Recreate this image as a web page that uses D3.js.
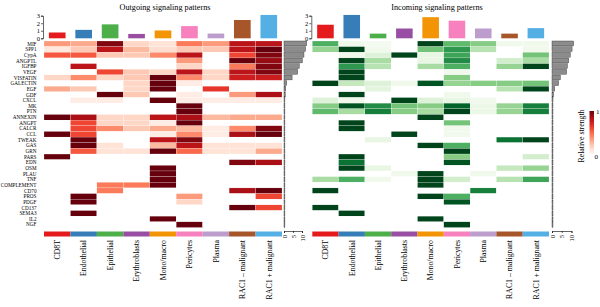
<!DOCTYPE html>
<html><head><meta charset="utf-8">
<script src="https://cdn.jsdelivr.net/npm/d3@7"></script>
<style>body{margin:0;background:#fff}svg{display:block;font-family:"Liberation Serif","DejaVu Serif",serif}</style>
</head><body><div id="chart"></div>
<script>
// cell groups and signaling pathways
var cellTypes = ["CD8T", "Endothelial", "Epithelial", "Erythroblasts", "Mono/macro", "Pericytes", "Plasma", "RAC1 \u2013 malignant", "RAC1 + malignant"];
var typeColors = ["#E41A1C", "#377EB8", "#4DAF4A", "#984EA3", "#F29403", "#F781BF", "#BC9DCC", "#A65628", "#54B0E4"];
var pathways = ["MIF", "SPP1", "CypA", "ANGPTL", "IGFBP", "VEGF", "VISFATIN", "GALECTIN", "EGF", "GDF", "CXCL", "MK", "PTN", "ANNEXIN", "ANGPT", "CALCR", "CCL", "TWEAK", "GAS", "GRN", "PARS", "EDN", "OSM", "PLAU", "TNF", "COMPLEMENT", "CD70", "PROS", "PDGF", "CD137", "SEMA3", "IL2", "NGF"];

// column totals (top bars)
var outTotals = [0.77, 1.12, 1.85, 0.58, 1.04, 1.62, 0.63, 2.43, 3.1];
var inTotals = [1.8, 3.1, 0.62, 1.3, 2.8, 2.34, 1.3, 0.62, 1.35];

// row totals (side bars)
var outRowSums = [12.6, 12, 11.1, 10.2, 8.5, 7.6, 4.5, 1.5, 1, 0.7, 0.5, 0.5, 0.5, 0.5, 0.5, 0.5, 0.5, 0.5, 0.5, 0.5, 0.5, 0.5, 0.5, 0.5, 0.5, 0.5, 0.5, 0.5, 0.5, 0.5, 0.5, 0.5, 0.5];
var inRowSums = [11.1, 10.3, 9.4, 8.6, 7.9, 7.5, 4.3, 3.4, 1.4, 0.8, 0.5, 0.5, 0.5, 0.5, 0.5, 0.5, 0.5, 0.5, 0.5, 0.5, 0.5, 0.5, 0.5, 0.5, 0.5, 0.5, 0.5, 0.5, 0.5, 0.5, 0.5, 0.5, 0.5];

// relative strength, one row per pathway
var outgoing = [
  [0.35, 0.3, 0.95, 0.15, 0.1, 0.45, 0.35, 0.8, 0.8],
  [0.08, 0.2, 0.8, 0.25, 0.12, 0.2, 0.2, 0.8, 1.0],
  [0.55, 0.55, 0.2, 0.2, 0.4, 0.8, 0, 0.6, 0.95],
  [0, 0, 0, 0, 0, 0.35, 0, 1.0, 0.9],
  [0, 0.8, 0, 0, 0, 0.15, 0, 0.45, 0.95],
  [0, 0, 0.6, 0.2, 0.15, 0.8, 0.15, 0.8, 0.95],
  [0.15, 0.4, 0.15, 0.2, 1.0, 0.4, 0.15, 0.75, 0.75],
  [0, 0, 0, 0.15, 1.0, 0.05, 0, 0, 0],
  [0.3, 0.2, 0, 0.15, 1.0, 0, 0.65, 0, 0],
  [0, 0, 1.0, 0.2, 0, 0.05, 0, 0.35, 0.85],
  [0, 0.05, 0.05, 0, 1.0, 0.05, 0.05, 0.05, 0.05],
  [0, 0, 0, 0, 0, 1.0, 0, 0, 0],
  [0, 0, 0, 0, 0, 1.0, 0, 0, 0],
  [1.0, 0.85, 0.15, 0.15, 0.8, 0.85, 0.25, 0.3, 0.3],
  [0, 0.6, 0.15, 0.15, 0.05, 1.0, 0, 0, 0],
  [0, 0.6, 0.4, 0.2, 0.3, 0.25, 0.05, 0.4, 0.95],
  [1.0, 0.6, 0, 0, 0.05, 0.4, 0.05, 0.85, 1.0],
  [0, 1.0, 0, 0, 0.8, 0.95, 0, 0, 0],
  [0, 1.0, 0.1, 0, 0.25, 0.8, 0.1, 0.1, 0.1],
  [0, 0.55, 0.1, 0.1, 1.0, 0.5, 0.1, 0.1, 0.3],
  [1.0, 0, 0, 0, 0, 0, 0, 0, 0],
  [0, 0, 0, 0, 0, 0, 0, 0.95, 0.85],
  [0, 0, 0, 0, 1.0, 0, 0, 0, 0],
  [0, 0, 0, 0, 1.0, 0, 0, 0, 0],
  [0, 0, 0, 0, 1.0, 0, 0, 0, 0],
  [0, 0, 0.45, 0.45, 1.0, 0, 0, 0, 0],
  [0, 0, 0.45, 0, 0, 0, 0, 0.85, 1.0],
  [0, 1.0, 0, 0, 0, 0.35, 0, 0, 0.6],
  [0, 1.0, 0, 0, 0, 0.15, 0, 0, 0],
  [0, 0, 0, 0, 0, 0, 0, 1.0, 0.6],
  [0, 1.0, 0, 0, 0, 0, 0, 0, 0],
  [0, 0, 0, 0, 1.0, 0, 0, 0, 0],
  [0, 0, 0, 0, 0, 1.0, 0, 0, 0]
];
var incoming = [
  [0.6, 0.05, 0.03, 0, 1.0, 0.55, 0.45, 0.05, 0.05],
  [0.4, 1.0, 0.05, 0, 0.5, 0.7, 0.3, 0, 0.05],
  [0, 0.05, 0.15, 1.0, 0.1, 0.65, 0, 0, 0.5],
  [0, 1.0, 0.35, 0, 0.1, 0.75, 0, 0.2, 0.35],
  [0, 0.7, 0.3, 0, 0.35, 0.6, 0, 0.4, 1.0],
  [0, 1.0, 0, 0, 0, 0.05, 0, 0, 0],
  [0, 1.0, 0, 0, 0, 0.45, 0, 0, 0],
  [1.0, 0.25, 0.15, 0.05, 0.95, 0.4, 0.45, 0.45, 0.5],
  [0, 0, 0.12, 0, 0, 0, 0, 0.3, 1.0],
  [0, 1.0, 0, 0, 0, 0.05, 0, 0, 0],
  [0.15, 0.05, 0, 1.0, 0.15, 0.1, 0.05, 0, 0],
  [0.45, 0.95, 0.75, 0.5, 0.45, 0.9, 0.08, 0.4, 0.8],
  [0.55, 0.35, 0.8, 0.45, 0.35, 1.0, 0.08, 0.4, 0.8],
  [0, 0, 0, 0, 1.0, 0, 0, 0, 0],
  [0, 1.0, 0, 0, 0, 0.5, 0, 0, 0],
  [0, 1.0, 0, 0, 0, 0.05, 0, 0, 0],
  [0, 0, 0, 1.0, 0, 0.05, 0, 0, 0],
  [0, 0, 0.1, 0, 0, 0, 0, 0.85, 1.0],
  [0, 0, 0, 0, 1.0, 0.6, 0, 0, 0],
  [0, 0, 0, 0, 0, 1.0, 0, 0, 0],
  [0, 1.0, 0, 0, 0, 0.45, 0, 0, 0.2],
  [0, 0.85, 0, 0, 0, 0.95, 0, 0, 0],
  [0, 1.0, 0.1, 0, 0, 0, 0, 0.25, 0.4],
  [0, 0, 0, 0.05, 1.0, 0, 0.05, 0, 0],
  [0.35, 0.6, 0.05, 0, 1.0, 0.2, 0, 0.3, 0.65],
  [0, 0, 0, 0, 1.0, 0, 0, 0, 0],
  [1.0, 0, 0, 0, 0, 0, 0.8, 0, 0],
  [0, 0, 0, 0, 1.0, 0.6, 0, 0, 0],
  [0, 0, 0, 0, 0, 0.95, 0, 0, 0],
  [1.0, 0, 0, 0, 0, 0, 0, 0, 0],
  [0, 1.0, 0, 0, 0, 0, 0, 0, 0],
  [0, 0, 0, 0, 1.0, 0, 0, 0, 0],
  [0, 0, 0, 0, 0, 1.0, 0, 0, 0]
];

var W = 600, H = 307;
var svg = d3.select("#chart").append("svg").attr("width", W).attr("height", H);

var rowsTop = 41, rowsBottom = 227.5, annoTop = 231.5, annoH = 5;

var y = d3.scaleBand().domain(pathways).range([rowsTop, rowsBottom]);

function panel(opts) {
  var g = svg.append("g");
  var x = d3.scaleBand().domain(cellTypes).range([opts.x0, opts.x1]);
  var color = d3.scaleSequential(opts.interp).domain([0, 1]);

  // title
  g.append("text").attr("x", opts.titleX).attr("y", 9.5)
    .attr("text-anchor", "middle").attr("font-size", 8.2).text(opts.title);

  // top bar chart
  var yTop = d3.scaleLinear().domain([0, 3]).range([38.3, 15.7]);
  var xb = d3.scaleBand().domain(cellTypes).range([opts.x0, opts.x1]).paddingInner(0.37).paddingOuter(0.185);
  g.selectAll(".tb").data(opts.totals).join("rect")
    .attr("x", function(d, i){ return xb(cellTypes[i]); })
    .attr("width", xb.bandwidth())
    .attr("y", function(d){ return yTop(d); })
    .attr("height", function(d){ return yTop(0) - yTop(d); })
    .attr("fill", function(d, i){ return typeColors[i]; });
  var ax = g.append("g").attr("transform", "translate(" + (opts.x0 - 1) + ",0)")
    .call(d3.axisLeft(yTop).ticks(3).tickSize(2).tickPadding(1));
  ax.select(".domain").attr("stroke-width", 0.6);
  ax.selectAll(".tick line").attr("stroke-width", 0.6);
  ax.selectAll("text").attr("font-size", 6.5).attr("font-family", "Liberation Serif");

  // heatmap cells
  var cells = [];
  opts.data.forEach(function(row, r){
    row.forEach(function(v, c){ cells.push({r: r, c: c, v: v}); });
  });
  g.selectAll(".cell").data(cells).join("rect")
    .attr("x", function(d){ return x(cellTypes[d.c]); })
    .attr("y", function(d){ return y(pathways[d.r]); })
    .attr("width", x.bandwidth())
    .attr("height", y.bandwidth())
    .attr("fill", function(d){ return d.v > 0 ? color(d.v) : "#fff"; })
    .attr("stroke", "#fff").attr("stroke-width", 0.2);

  // column annotation bar
  g.selectAll(".anno").data(cellTypes).join("rect")
    .attr("x", function(d){ return x(d); })
    .attr("y", annoTop).attr("width", x.bandwidth()).attr("height", annoH)
    .attr("fill", function(d, i){ return typeColors[i]; });

  // column labels
  g.selectAll(".cl").data(cellTypes).join("text")
    .attr("transform", function(d){ return "translate(" + (x(d) + x.bandwidth() / 2 + 2.8) + "," + (annoTop + annoH + 3.5) + ") rotate(-90)"; })
    .attr("text-anchor", "end").attr("font-size", 7.8).text(function(d){ return d; });

  // row bar chart
  var xr = d3.scaleLinear().domain([0, 10]).range([opts.rx0, opts.rx1]);
  var yr = d3.scaleBand().domain(pathways).range([rowsTop, rowsBottom]).paddingInner(0.15);
  g.selectAll(".rb").data(opts.rowSums).join("rect")
    .attr("x", xr(0))
    .attr("y", function(d, i){ return yr(pathways[i]); })
    .attr("width", function(d){ return xr(d) - xr(0); })
    .attr("height", yr.bandwidth())
    .attr("fill", "#8c8c8c").attr("stroke", "#333").attr("stroke-width", 0.4);
  var rax = g.append("g").attr("transform", "translate(0," + (annoTop - 0.5) + ")")
    .call(d3.axisBottom(xr).tickValues([0, 5, 10]).tickSize(2).tickPadding(1));
  rax.select(".domain").attr("stroke-width", 0.6);
  rax.selectAll(".tick line").attr("stroke-width", 0.6);
  rax.selectAll("text").attr("font-size", 6.5).attr("font-family", "Liberation Serif")
    .attr("text-anchor", "end").attr("dy", "0.32em")
    .attr("transform", "translate(0,1) rotate(-90)").attr("x", -3).attr("y", 0);

  return g;
}

panel({title: "Outgoing signaling patterns", titleX: 165, x0: 44, x1: 282,
  interp: d3.interpolateReds, data: outgoing, totals: outTotals, rowSums: outRowSums, rx0: 284, rx1: 302});
panel({title: "Incoming signaling patterns", titleX: 437, x0: 312.3, x1: 549,
  interp: d3.interpolateGreens, data: incoming, totals: inTotals, rowSums: inRowSums, rx0: 552, rx1: 571.5});

// row labels (left panel only)
svg.append("g").selectAll("text").data(pathways).join("text")
  .attr("x", 36.5).attr("y", function(d){ return y(d) + y.bandwidth() / 2; })
  .attr("dy", "0.35em").attr("text-anchor", "end").attr("font-size", 5.2)
  .text(function(d){ return d; });

// legend
var defs = svg.append("defs");
var grad = defs.append("linearGradient").attr("id", "lg").attr("x1", 0).attr("x2", 0).attr("y1", 1).attr("y2", 0);
d3.range(0, 1.01, 0.1).forEach(function(t){
  grad.append("stop").attr("offset", t).attr("stop-color", d3.interpolateReds(t));
});
var ls = d3.scaleLinear().domain([0, 1]).range([154, 111]);
svg.append("rect").attr("x", 589.5).attr("y", ls(1)).attr("width", 4.5).attr("height", ls(0) - ls(1)).attr("fill", "url(#lg)");
svg.append("text").attr("x", 596).attr("y", ls(1) + 2.5).attr("font-size", 7).text("1");
svg.append("text").attr("x", 594.5).attr("y", ls(0) + 5).attr("font-size", 7).text("0");
svg.append("text").attr("transform", "translate(583.5,136) rotate(-90)")
  .attr("text-anchor", "middle").attr("font-size", 7.8).text("Relative strength");
</script>
</body></html>
